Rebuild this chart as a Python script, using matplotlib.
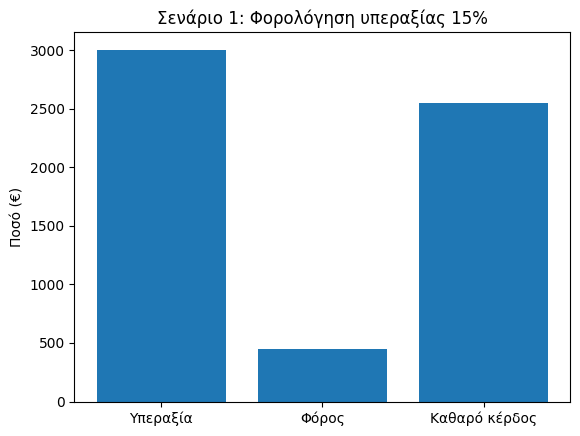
import matplotlib
matplotlib.use("Agg")
import matplotlib.pyplot as plt

categories = ["Υπεραξία", "Φόρος", "Καθαρό κέρδος"]
values = [3000, 450, 2550]

fig, ax = plt.subplots(figsize=(5.8, 4.36), dpi=100)
fig.subplots_adjust(left=0.1284, right=0.9836, top=0.9255, bottom=0.0791)
ax.bar(categories, values, color="#1f77b4")
ax.set_title("Σενάριο 1: Φορολόγηση υπεραξίας 15%")
ax.set_ylabel("Ποσό (€)")
fig.savefig("out.png", dpi=100)
